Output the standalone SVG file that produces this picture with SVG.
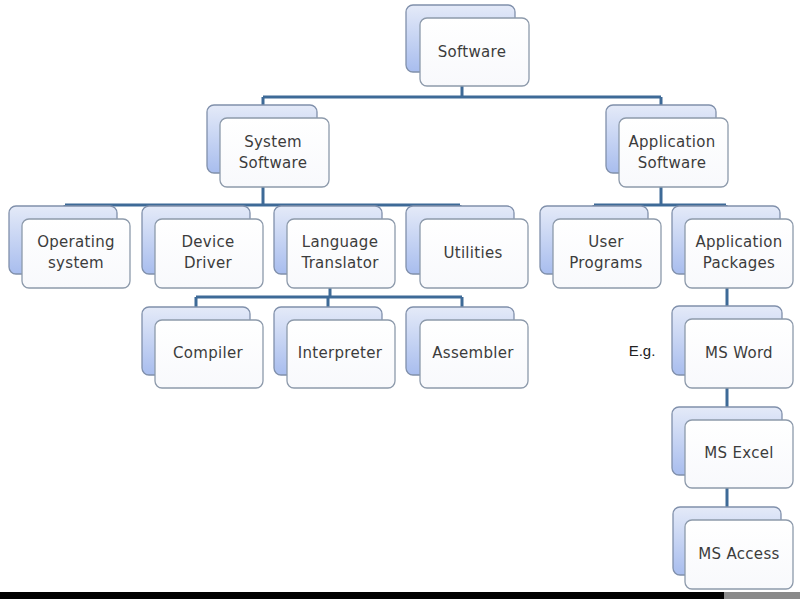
<svg xmlns="http://www.w3.org/2000/svg" width="800" height="599" viewBox="0 0 800 599">
<defs>
<linearGradient id="bk" x1="0" y1="0" x2="0" y2="1">
<stop offset="0" stop-color="#e4eaf8"/>
<stop offset="1" stop-color="#a8bdee"/>
</linearGradient>
<linearGradient id="fr" x1="0" y1="0" x2="0" y2="1">
<stop offset="0" stop-color="#ffffff"/>
<stop offset="1" stop-color="#f8f9fc"/>
</linearGradient>
<style>
.b{fill:url(#bk);stroke:#8090ab;stroke-width:1.3}
.f{fill:url(#fr);stroke:#8d9aab;stroke-width:1.3}
.t{font-family:"DejaVu Sans","Liberation Sans",sans-serif;font-size:15px;letter-spacing:0.3px;fill:#3c3c3c;text-anchor:middle}
.c{fill:none;stroke:#3e6a97;stroke-width:3}
</style>
</defs>
<rect width="800" height="599" fill="#ffffff"/>
<g id="connectors">
<path class="c" d="M462 86V97M263 97H661M263 97V105M661 97V105"/>
<path class="c" d="M263 187V205M65 205H460M65 205V206M196 205V206M328 205V206M460 205V206"/>
<path class="c" d="M661 187V205M594 205H726M594 205V206M726 205V206"/>
<path class="c" d="M330 287V297M196 297H462M196 297V307M328 297V307M462 297V307"/>
<path class="c" d="M727 287V306M727 388V407M727 488V507"/>
</g>
<g id="software"><rect class="b" x="406" y="5" width="109" height="67" rx="7"/><rect class="f" x="420" y="18" width="109" height="68" rx="7"/><text class="t" x="472" y="57">Software</text></g>
<g id="system-software"><rect class="b" x="207" y="105" width="110" height="68" rx="7"/><rect class="f" x="220" y="118" width="109" height="69" rx="7"/><text class="t" x="273" y="147">System</text><text class="t" x="273" y="168">Software</text></g>
<g id="application-software"><rect class="b" x="606" y="105" width="110" height="68" rx="7"/><rect class="f" x="619" y="118" width="109" height="69" rx="7"/><text class="t" x="672" y="147">Application</text><text class="t" x="672" y="168">Software</text></g>
<g id="operating-system"><rect class="b" x="9" y="206" width="108" height="68" rx="7"/><rect class="f" x="22" y="219" width="108" height="69" rx="7"/><text class="t" x="76" y="247">Operating</text><text class="t" x="76" y="268">system</text></g>
<g id="device-driver"><rect class="b" x="142" y="206" width="108" height="68" rx="7"/><rect class="f" x="155" y="219" width="108" height="69" rx="7"/><text class="t" x="208" y="247">Device</text><text class="t" x="208" y="268">Driver</text></g>
<g id="language-translator"><rect class="b" x="274" y="206" width="108" height="68" rx="7"/><rect class="f" x="287" y="219" width="108" height="69" rx="7"/><text class="t" x="340" y="247">Language</text><text class="t" x="340" y="268">Translator</text></g>
<g id="utilities"><rect class="b" x="406" y="206" width="108" height="68" rx="7"/><rect class="f" x="420" y="219" width="108" height="69" rx="7"/><text class="t" x="473" y="258">Utilities</text></g>
<g id="user-programs"><rect class="b" x="540" y="206" width="108" height="68" rx="7"/><rect class="f" x="553" y="219" width="108" height="69" rx="7"/><text class="t" x="606" y="247">User</text><text class="t" x="606" y="268">Programs</text></g>
<g id="application-packages"><rect class="b" x="672" y="206" width="108" height="68" rx="7"/><rect class="f" x="685" y="219" width="108" height="69" rx="7"/><text class="t" x="739" y="247">Application</text><text class="t" x="739" y="268">Packages</text></g>
<g id="compiler"><rect class="b" x="142" y="307" width="108" height="68" rx="7"/><rect class="f" x="155" y="320" width="108" height="68" rx="7"/><text class="t" x="208" y="358">Compiler</text></g>
<g id="interpreter"><rect class="b" x="274" y="307" width="108" height="68" rx="7"/><rect class="f" x="287" y="320" width="108" height="68" rx="7"/><text class="t" x="340" y="358">Interpreter</text></g>
<g id="assembler"><rect class="b" x="406" y="307" width="108" height="68" rx="7"/><rect class="f" x="420" y="320" width="108" height="68" rx="7"/><text class="t" x="473" y="358">Assembler</text></g>
<text class="t" x="642" y="356" style="fill:#222;font-family:'Liberation Sans',sans-serif;font-size:15px;letter-spacing:0">E.g.</text>
<g id="ms-word"><rect class="b" x="672" y="306" width="110" height="69" rx="7"/><rect class="f" x="685" y="319" width="108" height="69" rx="7"/><text class="t" x="739" y="358">MS Word</text></g>
<g id="ms-excel"><rect class="b" x="672" y="407" width="110" height="68" rx="7"/><rect class="f" x="685" y="420" width="108" height="68" rx="7"/><text class="t" x="739" y="458">MS Excel</text></g>
<g id="ms-access"><rect class="b" x="673" y="507" width="108" height="68" rx="7"/><rect class="f" x="685" y="520" width="108" height="69" rx="7"/><text class="t" x="739" y="559">MS Access</text></g>
<rect x="0" y="592" width="800" height="7" fill="#000000"/>
<rect x="724" y="592" width="76" height="7" fill="#8a8a8a"/>
</svg>
